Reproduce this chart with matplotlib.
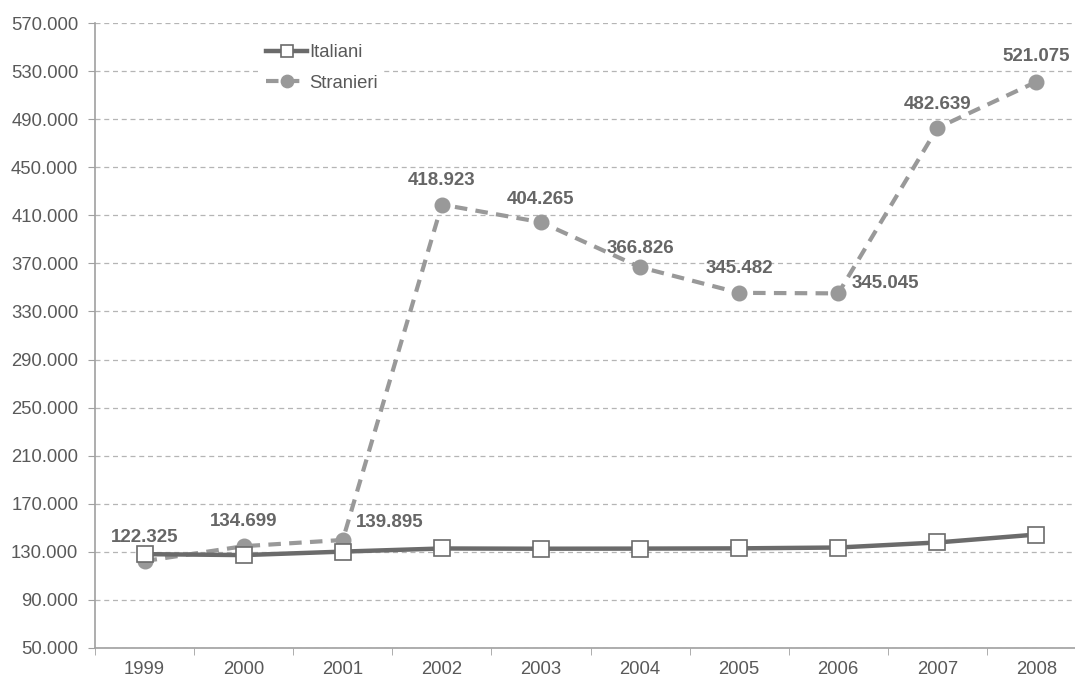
import matplotlib.pyplot as plt
import numpy as np

plt.rcParams['font.family'] = ['Liberation Sans', 'DejaVu Sans']

# data
anni = ['1999', '2000', '2001', '2002', '2003', '2004', '2005', '2006', '2007', '2008']
italiani = [128100, 127300, 130200, 132800, 132600, 132700, 132900, 133600, 137800, 144400]
stranieri = [122325, 134699, 139895, 418923, 404265, 366826, 345482, 345045, 482639, 521075]
etichette = ['122.325', '134.699', '139.895', '418.923', '404.265',
             '366.826', '345.482', '345.045', '482.639', '521.075']
# label offsets in pixels (dx, dy)
offs = [(0, 24), (0, 25), (47, 17), (0, 24), (0, 23),
        (0, 19), (0, 24), (47, 10), (0, 24), (0, 25)]

fig = plt.figure(figsize=(10.75, 6.82), dpi=100)
ax = fig.add_axes([95/1075, 34/682, 991/1075, 625/682])

x = np.arange(len(anni))

ax.plot(x, italiani, color='#6b6b6b', lw=3.2, marker='s', ms=11,
        mfc='white', mec='#6b6b6b', mew=1.2, label='Italiani', zorder=3)
ax.plot(x, stranieri, color='#999999', lw=3.0, ls=(0, (3, 2)), marker='o', ms=10.5,
        mfc='#999999', mec='#999999', label='Stranieri', zorder=2)

for i in range(len(x)):
    ax.annotate(etichette[i], (x[i], stranieri[i]), xytext=offs[i],
                textcoords='offset pixels', ha='center', va='center',
                fontsize=13.5, fontweight='bold', color='#666666')

ax.set_xlim(-0.5, 9.5)
ax.set_ylim(50000, 570000)
yt = np.arange(50000, 570001, 40000)
ax.set_yticks(yt)
ax.set_yticklabels([f'{v//1000}.000' for v in yt])
ax.set_xticks(x)
ax.set_xticklabels(anni)
ax.set_xticks(np.arange(-0.5, 10, 1), minor=True)
ax.tick_params(axis='x', which='major', length=0, pad=9, labelsize=13.3, labelcolor='#595959')
ax.tick_params(axis='x', which='minor', length=5, color='#a0a0a0')
ax.tick_params(axis='y', length=5, color='#a0a0a0', labelsize=13.3, labelcolor='#595959', pad=7)

ax.grid(axis='y', color='#b5b5b5', ls=(0, (4, 3)), lw=0.9)
for s in ['top', 'right']:
    ax.spines[s].set_visible(False)
for s in ['left', 'bottom']:
    ax.spines[s].set_color('#a0a0a0')
    ax.spines[s].set_linewidth(1.2)

leg = ax.legend(loc='upper left', bbox_to_anchor=(0.158, 0.99), frameon=True,
                fancybox=False, edgecolor='none', facecolor='white', framealpha=1,
                fontsize=13.3, handlelength=2.2, labelspacing=0.75, handletextpad=0.1,
                borderpad=0.3, markerscale=0.85)
for t in leg.get_texts():
    t.set_color('#595959')

fig.savefig('out.png', dpi=100)
